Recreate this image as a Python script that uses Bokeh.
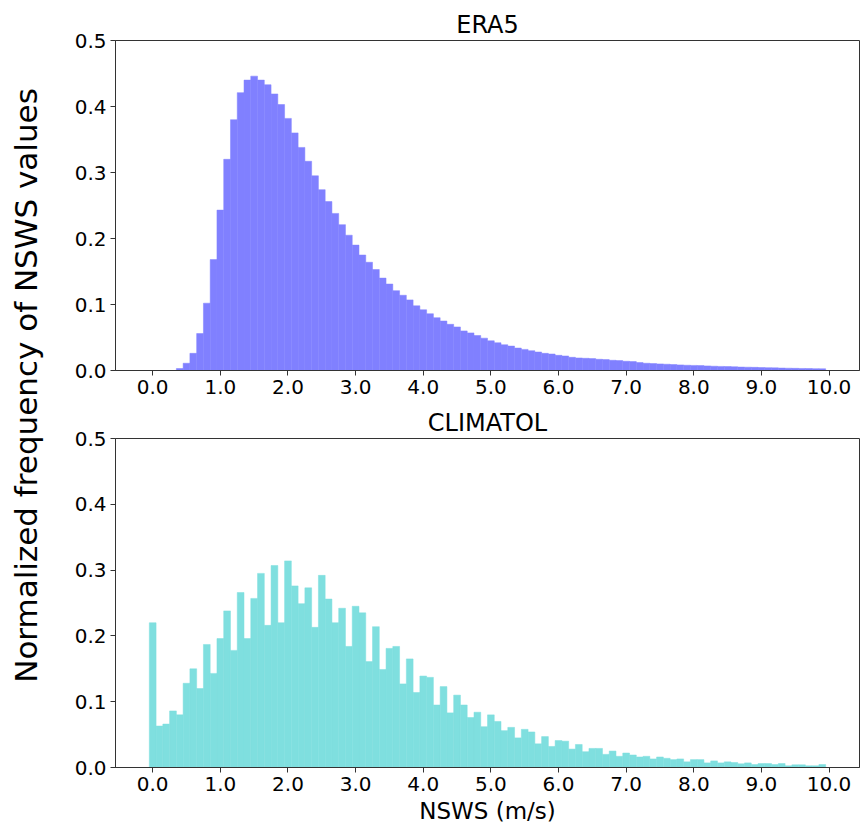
from bokeh.plotting import figure
from bokeh.layouts import row, column
from bokeh.models import Range1d, FixedTicker, Title, ColumnDataSource
from bokeh.embed import file_html
from bokeh.resources import INLINE

# ---- data ----
bin_width = 0.1
bin_left = [round(i * 0.1, 1) for i in range(100)]

era5 = [0.0, 0.0, 0.0, 0.0, 0.003, 0.011, 0.026, 0.056, 0.102, 0.168,
        0.243, 0.320, 0.380, 0.421, 0.440, 0.446, 0.440, 0.433, 0.419, 0.403,
        0.382, 0.360, 0.338, 0.317, 0.295, 0.274, 0.256, 0.238, 0.221, 0.205,
        0.190, 0.175, 0.164, 0.153, 0.140, 0.131, 0.121, 0.114, 0.107, 0.098,
        0.092, 0.086, 0.080, 0.075, 0.070, 0.066, 0.060, 0.057, 0.053, 0.049,
        0.045, 0.042, 0.039, 0.037, 0.034, 0.032, 0.030, 0.028, 0.026, 0.025,
        0.023, 0.022, 0.020, 0.019, 0.0185, 0.018, 0.017, 0.0165, 0.0155, 0.015,
        0.014, 0.0135, 0.012, 0.011, 0.0105, 0.010, 0.0095, 0.009, 0.0085, 0.008,
        0.0077, 0.0074, 0.007, 0.0065, 0.0062, 0.006, 0.0057, 0.0052, 0.005, 0.0048,
        0.0045, 0.0043, 0.004, 0.0037, 0.0035, 0.0033, 0.0031, 0.003, 0.0028, 0.0026]

climatol = [0.220, 0.063, 0.066, 0.086, 0.080, 0.128, 0.150, 0.120, 0.187, 0.143,
            0.196, 0.238, 0.178, 0.266, 0.196, 0.257, 0.295, 0.216, 0.307, 0.220,
            0.314, 0.276, 0.249, 0.273, 0.213, 0.292, 0.256, 0.220, 0.242, 0.184,
            0.245, 0.235, 0.161, 0.214, 0.149, 0.181, 0.184, 0.127, 0.165, 0.114,
            0.139, 0.137, 0.095, 0.123, 0.083, 0.110, 0.095, 0.076, 0.084, 0.062,
            0.080, 0.070, 0.056, 0.061, 0.045, 0.058, 0.054, 0.036, 0.047, 0.032,
            0.041, 0.040, 0.028, 0.035, 0.024, 0.029, 0.029, 0.020, 0.025, 0.017,
            0.022, 0.019, 0.016, 0.017, 0.013, 0.016, 0.014, 0.012, 0.013, 0.0086,
            0.012, 0.012, 0.007, 0.010, 0.007, 0.0086, 0.0076, 0.0056, 0.007, 0.0045,
            0.006, 0.006, 0.0045, 0.006, 0.0025, 0.004, 0.004, 0.0025, 0.0025, 0.0045]

x_tick_values = [i + 0.05 for i in range(11)]
x_tick_labels = ["0.0", "1.0", "2.0", "3.0", "4.0", "5.0", "6.0", "7.0", "8.0", "9.0", "10.0"]
y_ticks = [0.0, 0.1, 0.2, 0.3, 0.4, 0.5]

FONT = "DejaVu Sans"


def make_hist(title, values, color, height, top_border, bottom_border, xlabel=None):
    p = figure(width=800, height=height, output_backend="svg", toolbar_location=None,
               x_range=Range1d(-0.5, 10.5), y_range=Range1d(0, 0.5),
               min_border_left=55, min_border_right=1,
               min_border_top=top_border, min_border_bottom=bottom_border)
    src = ColumnDataSource(dict(left=bin_left,
                                right=[b + bin_width for b in bin_left],
                                top=values, bottom=[0] * len(values)))
    p.quad(left="left", right="right", top="top", bottom="bottom", source=src,
           fill_color=color, line_color=color, line_width=0.5)
    p.title.text = title
    p.title.align = "center"
    p.title.text_font = FONT
    p.title.text_font_size = "24px"
    p.title.text_font_style = "normal"
    p.title.text_color = "black"
    p.title.standoff = 4
    p.xgrid.visible = False
    p.ygrid.visible = False
    p.outline_line_color = "#333333"
    p.outline_line_width = 1
    p.xaxis.ticker = FixedTicker(ticks=x_tick_values)
    p.xaxis.major_label_overrides = {v: l for v, l in zip(x_tick_values, x_tick_labels)}
    p.yaxis.ticker = FixedTicker(ticks=y_ticks)
    p.yaxis.major_label_overrides = {v: f"{v:.1f}" for v in y_ticks}
    for ax in (p.xaxis[0], p.yaxis[0]):
        ax.major_tick_in = 0
        ax.major_tick_out = 5
        ax.minor_tick_line_color = None
        ax.major_label_text_font = FONT
        ax.major_label_text_font_size = "20px"
        ax.major_label_text_color = "black"
        ax.major_label_standoff = 4
        ax.axis_line_color = "#333333"
        ax.major_tick_line_color = "#333333"
    if xlabel:
        p.xaxis.axis_label = xlabel
        p.xaxis.axis_label_text_font = FONT
        p.xaxis.axis_label_text_font_size = "23px"
        p.xaxis.axis_label_text_font_style = "normal"
        p.xaxis.axis_label_text_color = "black"
        p.xaxis.axis_label_standoff = 4
    p.background_fill_color = "white"
    p.border_fill_color = "white"
    return p


top = make_hist("ERA5", era5, "#8080ff", 404, 40, 34)
bot = make_hist("CLIMATOL", climatol, "#7fdfdf", 423, 33, 60, xlabel="NSWS (m/s)")

lab = figure(width=60, height=827, output_backend="svg", toolbar_location=None,
             x_axis_type=None, y_axis_type=None, min_border_left=0, min_border_right=0,
             min_border_top=0, min_border_bottom=57)
lab.outline_line_color = None
lab.xgrid.visible = False
lab.ygrid.visible = False
ylab = Title(text="Normalized frequency of NSWS values", align="center",
             text_font=FONT, text_font_size="31px", text_font_style="normal",
             text_color="black")
lab.add_layout(ylab, "left")

layout = row(lab, column(top, bot))
open("out.html", "w").write(file_html(layout, INLINE))
